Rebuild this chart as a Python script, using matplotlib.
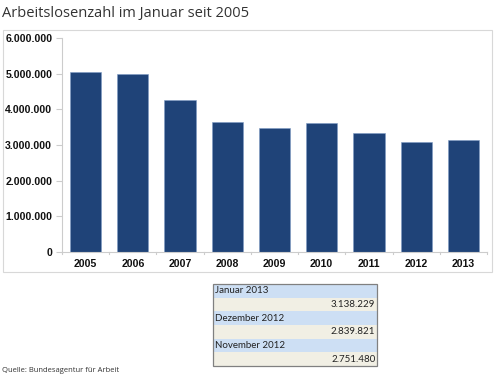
import matplotlib.pyplot as plt
from matplotlib.patches import Rectangle
import numpy as np

# Daten
jahre = ['2005', '2006', '2007', '2008', '2009', '2010', '2011', '2012', '2013']
arbeitslose = [5040000, 5000000, 4250000, 3650000, 3480000, 3610000, 3340000, 3080000, 3138229]
yticks = [0, 1000000, 2000000, 3000000, 4000000, 5000000, 6000000]
ytick_labels = ['0', '1.000.000', '2.000.000', '3.000.000', '4.000.000', '5.000.000', '6.000.000']
tab_monate = ['Januar 2013', 'Dezember 2012', 'November 2012']
tab_werte = ['3.138.229', '2.839.821', '2.751.480']

W, H = 496, 380
fig = plt.figure(figsize=(W / 100, H / 100), dpi=100)
fig.patch.set_facecolor('white')

def px(x0, y0, x1, y1):
    # Pixelbox (oben links / unten rechts) -> figure coords
    return [x0 / W, 1 - y1 / H, (x1 - x0) / W, (y1 - y0) / H]

# Titel
fig.text(2 / W, 1 - 13 / H, 'Arbeitslosenzahl im Januar seit 2005', fontsize=10.5,
         family='Open Sans', color='#333333', va='center', ha='left')

# Rahmen um das Diagramm
fig.patches.append(Rectangle((3 / W, 1 - 272 / H), 489 / W, 242 / H, transform=fig.transFigure,
                             fill=False, edgecolor='#d8d8d8', lw=0.8))

ax = fig.add_axes(px(62, 38, 487, 252))
x = np.arange(len(jahre))
ax.bar(x, arbeitslose, width=0.66, color='#1f4378', edgecolor='#7f9cc4', linewidth=0.4)
ax.set_xlim(-0.5, len(jahre) - 0.5)
ax.set_ylim(0, 6000000)
ax.set_yticks(yticks)
ax.set_yticklabels(ytick_labels)
ax.set_xticks(x)
ax.set_xticklabels(jahre)
for lab in ax.get_xticklabels() + ax.get_yticklabels():
    lab.set_family('Liberation Sans')
    lab.set_fontweight('bold')
    lab.set_fontsize(7.6)
    lab.set_color('#111111')
for s in ['top', 'right']:
    ax.spines[s].set_visible(False)
ax.spines['left'].set_color('#cccccc')
ax.spines['bottom'].set_color('#cccccc')
ax.tick_params(axis='y', length=4, color='#cccccc', pad=3)
ax.tick_params(axis='x', length=0, pad=5)
# kleine Trennstriche an der x-Achse
for xi in np.arange(-0.5, len(jahre), 1.0):
    ax.plot([xi, xi], [0, -60000], color='#cccccc', lw=0.8, clip_on=False)

# Tabelle
tx0, tx1, ty0, ty1 = 213, 377, 284, 366
tab = fig.add_axes(px(tx0, ty0, tx1, ty1))
tab.set_xlim(0, 1)
tab.set_ylim(6, 0)
tab.axis('off')
for i in range(3):
    tab.add_patch(Rectangle((0, 2 * i), 1, 1, facecolor='#cddff4', edgecolor='none'))
    tab.add_patch(Rectangle((0, 2 * i + 1), 1, 1, facecolor='#f1efe4', edgecolor='none'))
    tab.text(0.01, 2 * i + 0.5, tab_monate[i], fontsize=7, family='Lato', va='center', ha='left', color='#222222')
    tab.text(0.99, 2 * i + 1.5, tab_werte[i], fontsize=7, family='Lato', va='center', ha='right', color='#222222')
tab.add_patch(Rectangle((0, 0), 1, 6, fill=False, edgecolor='#808080', lw=0.9, clip_on=False))

# Quelle
fig.text(2 / W, 1 - 370 / H, 'Quelle: Bundesagentur für Arbeit', fontsize=5.5,
         family='Open Sans', color='#333333', va='center', ha='left')

fig.savefig('out.png', dpi=100)
